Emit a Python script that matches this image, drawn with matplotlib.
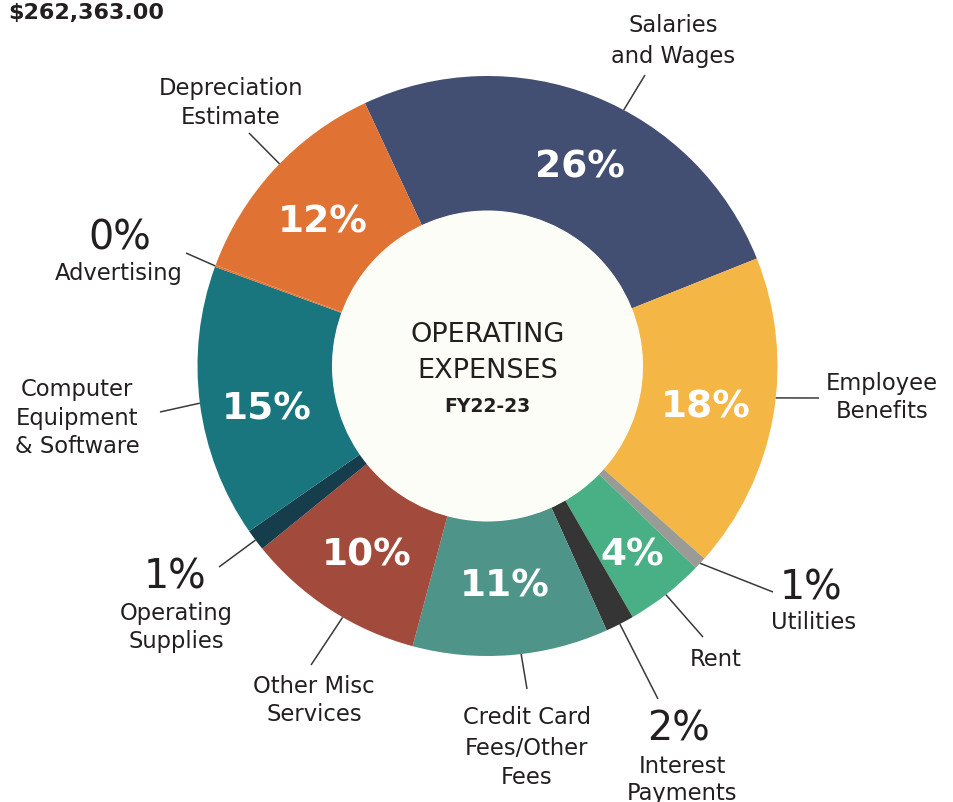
import matplotlib
matplotlib.use("Agg")
import matplotlib.pyplot as plt
import numpy as np

plt.rcParams['font.family'] = ['DejaVu Sans']

# ---------------- data ----------------
categories = ["Salaries and Wages", "Employee Benefits", "Utilities", "Rent",
              "Interest Payments", "Credit Card Fees/Other Fees",
              "Other Misc Services", "Operating Supplies",
              "Computer Equipment & Software", "Advertising",
              "Depreciation Estimate"]
shares = [25.9, 17.6, 0.7, 4.4, 1.6, 10.9, 10.0, 1.2, 15.2, 0.1, 12.4]
colors = ["#434f72", "#f4b645", "#9b9b95", "#49b085", "#353535", "#4f9488",
          "#a24b3c", "#153d4b", "#19757e", "#e07333", "#e07333"]
total_label = "$262,363.00"
title_lines = ["OPERATING", "EXPENSES"]
subtitle = "FY22-23"

# ---------------- layout (pixels, y down) ----------------
W, H = 954, 803
CX, CY = 487.5, 367
R_OUT, R_IN = 290, 155
TXT = "#231f20"

label_lines = [
    [("Salaries", 24), ("and Wages", 55)],
    [("Employee", 382), ("Benefits", 410)],
    [("Utilities", 621)],
    [("Rent", 658)],
    [("Interest", 765), ("Payments", 792)],
    [("Credit Card", 716), ("Fees/Other", 747), ("Fees", 776)],
    [("Other Misc", 685), ("Services", 713)],
    [("Operating", 612), ("Supplies", 640)],
    [("Computer", 388), ("Equipment", 417), ("& Software", 445)],
    [("Advertising", 272)],
    [("Depreciation", 86), ("Estimate", 115)],
]
label_x = [673, 882, 814, 716, 682, 527, 314, 176, 77, 119, 231]
outer_pct_pos = [None, None, (811, 587), None, (679, 728), None, None,
                 (175, 576), None, (120, 237), None]
inner_r = [222, 222, 0, 236, 0, 218, 222, 0, 224, 0, 220]
# angle offsets in data degrees (y axis is inverted: + means clockwise on screen)
inner_ang_off = [3, 0, 0, 0, 0, 0, 0, 0, -3, 0, -1]
anchor_off = [6.4, -3.6, 0, 0, 0, -2, -3, 0, 0, 0, 1.5]
line_end = [(645, 76), (819, 399), (773, 593), (703, 638), (658, 700),
            (527, 690), (311, 666), (219, 568), (160, 413), (186, 254),
            (249, 134)]

fig = plt.figure(figsize=(W / 100, H / 100), dpi=100)
ax = fig.add_axes([0, 0, 1, 1])

wedges, _ = ax.pie(shares, colors=colors, startangle=-115, counterclock=True,
                   radius=R_OUT, center=(CX, CY),
                   wedgeprops=dict(width=R_OUT - R_IN, linewidth=0))
ax.set_xlim(0, W)
ax.set_ylim(H, 0)
ax.set_aspect('equal')
ax.axis('off')

ax.add_patch(plt.Circle((CX, CY), R_IN + 0.5, color="#fdfdf7", zorder=3, lw=0))

def pt(angle_deg, r):
    a = np.deg2rad(angle_deg)
    return CX + r * np.cos(a), CY + r * np.sin(a)

for i, w in enumerate(wedges):
    mid = (w.theta1 + w.theta2) / 2
    pct = f"{round(shares[i])}%"
    if outer_pct_pos[i] is None:
        x, y = pt(mid + inner_ang_off[i], inner_r[i])
        ax.text(x, y + 2, pct, ha='center', va='center', color='white',
                fontsize=27, fontweight='bold', zorder=5)
    else:
        ox, oy = outer_pct_pos[i]
        ax.text(ox, oy + 2, pct, ha='center', va='center', color=TXT,
                fontsize=28.5, zorder=5)
    for t, y in label_lines[i]:
        ax.text(label_x[i], y + 2, t, ha='center', va='center', color=TXT,
                fontsize=16.3, zorder=5)
    sx, sy = pt(mid + anchor_off[i], R_OUT)
    ex, ey = line_end[i]
    ax.plot([sx, ex], [sy, ey], color="#3a3a3a", lw=1.1, zorder=4,
            solid_capstyle='butt')

ax.text(CX, 333 + 2, title_lines[0], ha='center', va='center', color=TXT,
        fontsize=19.5, zorder=6)
ax.text(CX, 369 + 2, title_lines[1], ha='center', va='center', color=TXT,
        fontsize=19.5, zorder=6)
ax.text(CX, 406 + 1, subtitle, ha='center', va='center', color=TXT,
        fontsize=13.5, fontweight='bold', zorder=6)

ax.text(8, 13, total_label, ha='left', va='center', color=TXT,
        fontsize=16, fontweight='bold')

fig.savefig("out.png", dpi=100, facecolor='white')
